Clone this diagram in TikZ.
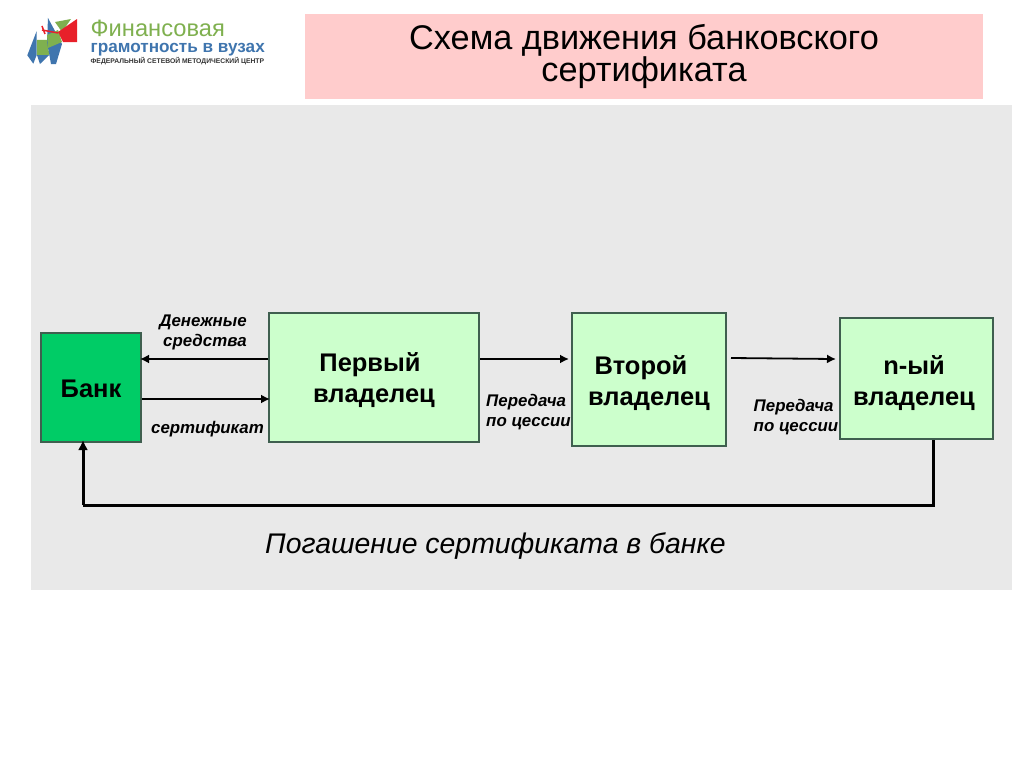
\documentclass[tikz,border=0pt]{standalone}
\usepackage{fontspec}
\setmainfont{Liberation Sans}
\usetikzlibrary{arrows.meta}

\definecolor{panelgrey}{HTML}{E9E9E9}
\definecolor{titlepink}{HTML}{FFCCCC}
\definecolor{bankgreen}{HTML}{00CC66}
\definecolor{ownergreen}{HTML}{CCFFCC}
\definecolor{boxedge}{HTML}{3F5F4F}
\definecolor{logogreen}{HTML}{7FB04F}
\definecolor{logoblue}{HTML}{3F75AE}
\definecolor{logored}{HTML}{E8202A}

\tikzset{
    box/.style={draw=boxedge, line width=0.02cm, fill=ownergreen, inner sep=0pt},
    boxtext/.style={inner sep=0pt, align=center, font=\fontsize{7.25pt}{8.9pt}\selectfont\bfseries},
    note/.style={inner sep=0pt, align=left, font=\fontsize{4.8pt}{5.7pt}\selectfont\bfseries\itshape},
    flow/.style={line width=0.018cm, shorten >=-0.02cm, -{Latex[length=0.09cm,width=0.09cm]}},
    back/.style={line width=0.03cm},
    logotext/.style={inner sep=0pt, anchor=west}
}

\begin{document}
\begin{tikzpicture}

    \useasboundingbox (0,0) rectangle (10.24,7.67);
    \fill[white] (0,0) rectangle (10.24,7.67);

    % panels
    \fill[panelgrey] (0.31,1.77) rectangle (10.12,6.62);
    \fill[titlepink] (3.05,6.68) rectangle (9.83,7.53);
    \node[inner sep=0pt, align=center, font=\fontsize{9.75pt}{11pt}\selectfont] (title) at (6.44,7.105)
        {Схема движения банковского\\[-2.1pt]сертификата};

    % logo
    \fill[logoblue] (0.367,7.36) -- (0.273,7.117) -- (0.333,7.033) -- (0.367,7.12) -- cycle;
    \fill[logogreen] (0.37,7.27) -- (0.48,7.27) -- (0.49,7.12) -- (0.37,7.12) -- cycle;
    \fill[logoblue] (0.37,7.12) -- (0.49,7.12) -- (0.40,7.03) -- cycle;
    \fill[logoblue] (0.48,7.49) -- (0.62,7.23) -- (0.56,7.03) -- (0.51,7.03) -- (0.47,7.25) -- cycle;
    \fill[logogreen] (0.47,7.32) -- (0.58,7.37) -- (0.62,7.25) -- (0.48,7.19) -- cycle;
    \fill[logogreen] (0.55,7.45) -- (0.71,7.48) -- (0.62,7.35) -- cycle;
    \fill[logored] (0.77,7.48) -- (0.77,7.25) -- (0.63,7.25) -- (0.58,7.35) -- cycle;
    \draw[logored, line width=0.015cm] (0.42,7.37) -- (0.58,7.34);
    \draw[logored, line width=0.015cm] (0.42,7.41) -- (0.45,7.33);
    \node[logotext, text=logogreen, font=\fontsize{6.74pt}{8pt}\selectfont] (logotop) at (0.90,7.39) {Финансовая};
    \node[logotext, text=logoblue, font=\fontsize{4.88pt}{6pt}\selectfont\bfseries] (logomid) at (0.90,7.17) {грамотность в вузах};
    \node[logotext, text=black!80, font=\fontsize{1.93pt}{3pt}\selectfont\bfseries] (logolow) at (0.90,7.06) {ФЕДЕРАЛЬНЫЙ СЕТЕВОЙ МЕТОДИЧЕСКИЙ ЦЕНТР};

    % boxes
    \node[box, fill=bankgreen, minimum width=1.00cm, minimum height=1.09cm] (bank) at (0.91,3.795) {};
    \node[box, minimum width=2.10cm, minimum height=1.29cm] (first) at (3.74,3.895) {};
    \node[box, minimum width=1.54cm, minimum height=1.33cm] (second) at (6.49,3.875) {};
    \node[box, minimum width=1.53cm, minimum height=1.21cm] (nth) at (9.165,3.885) {};

    \node[boxtext] (banktext) at (0.91,3.785) {Банк};
    \node[boxtext] (firsttext) at (3.74,3.87) {Первый\hspace*{0.08cm}\\владелец};
    \node[boxtext] (secondtext) at (6.49,3.84) {Второй\hspace*{0.16cm}\\владелец};
    \node[boxtext] (nthtext) at (9.14,3.84) {n-ый\\владелец};

    % connectors
    \coordinate (upper) at (0,4.08);
    \coordinate (lower) at (0,3.68);
    \coordinate (mid) at (6.85,4.09);
    \coordinate (midend) at (8.34,4.08);
    \coordinate (bottom) at (0,2.62);
    \coordinate (backup) at (0.83,0);
    \coordinate (backdown) at (9.33,0);

    \draw[flow] (first.west |- upper) -- (bank.east |- upper);
    \draw[flow] (bank.east |- lower) -- (first.west |- lower);
    \draw[flow] (first.east |- upper) -- ([xshift=-0.04cm]second.west |- upper);
    \draw[flow] ([xshift=0.04cm]second.east |- mid) -- (midend);
    \draw[back] (nth.south -| backdown) -- (backdown |- bottom) -- (backup |- bottom);
    \draw[back, shorten >=-0.03cm, -{Latex[length=0.1cm,width=0.1cm]}] (backup |- bottom) -- (bank.south -| backup);

    % labels
    \node[note, align=right] (money) at (2.03,4.345) {Денежные\\средства};
    \node[note] (cert) at (2.075,3.38) {сертификат};
    \node[note] (cessionA) at (5.285,3.55) {Передача\\по цессии};
    \node[note] (cessionB) at (7.96,3.50) {Передача\\по цессии};
    \node[inner sep=0pt, font=\fontsize{8.08pt}{9pt}\selectfont\itshape] (redeem) at (4.955,2.21) {Погашение сертификата в банке};

\end{tikzpicture}
\end{document}
